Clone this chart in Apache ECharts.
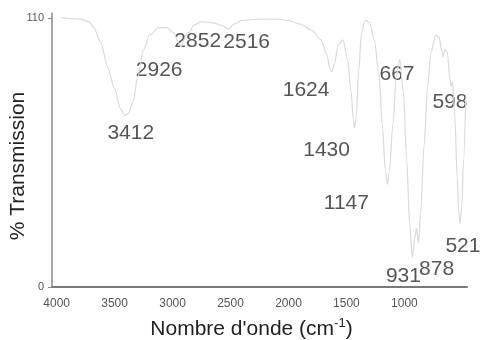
<!DOCTYPE html>
<html>
<head>
<meta charset="utf-8">
<script src="https://cdn.jsdelivr.net/npm/echarts@6/dist/echarts.min.js"></script>
<style>
  html, body { margin: 0; padding: 0; background: #fff; }
  #chart { width: 481px; height: 340px; }
</style>
</head>
<body>
<div id="chart"></div>
<script>
// IR spectrum: wavenumber (cm-1) and % transmission
const wavenumbers = [
  3960, 3900, 3800, 3720, 3680, 3620, 3560, 3500, 3450, 3412, 3380, 3340, 3300, 3250, 3200, 3120,
  3050, 2990, 2950, 2926, 2900, 2875, 2852, 2820, 2750, 2650, 2580, 2516, 2470, 2400, 2250, 2100,
  2000, 1900, 1800, 1720, 1670, 1640, 1624, 1605, 1570, 1530, 1490, 1460, 1440, 1430, 1415, 1395,
  1370, 1340, 1300, 1260, 1220, 1190, 1165, 1147, 1130, 1100, 1070, 1040, 1010, 980, 955, 931,
  910, 895, 878, 860, 830, 800, 770, 730, 700, 680, 667, 650, 630, 610, 598, 585,
  565, 545, 530, 521, 505, 490, 470
];
const transmission = [
  110, 109.8, 109.5, 108.5, 106, 100, 90, 81, 73, 70, 71, 76, 86, 97, 103, 106,
  106, 104, 100, 98, 101, 104, 104, 107, 108.5, 108, 107, 105.5, 107.5, 109, 109.5, 109.5,
  109, 107.5, 105, 101, 95, 89, 88, 91, 99, 101, 93, 80, 68, 65, 70, 88,
  104, 109, 108, 101, 87, 66, 48, 42, 47, 66, 86, 93, 80, 52, 26, 12,
  20, 24, 18, 30, 58, 82, 96, 103, 102, 97, 94, 97, 96, 86, 82, 84,
  70, 45, 30, 26, 33, 52, 78
];

// Annotated absorption bands
const bandLabels = [3412, 2926, 2852, 2516, 1624, 1430, 1147, 931, 878, 667, 598, 521];

// Axis ticks
const xTicks = [4000, 3500, 3000, 2500, 2000, 1500, 1000];
const yTicks = [0, 110];

// Text placement of each band label relative to its band minimum (px)
const labelOffsets = {
  3412: [6, 17], 2926: [-22, 23], 2852: [8, 9], 2516: [18, 13],
  1624: [-26, 18], 1430: [-28, 22], 1147: [-41, 19], 931: [-9, 19],
  878: [18, 26], 667: [-46, 17], 598: [-1, 16], 521: [3, 23]
};

const spectrum = wavenumbers.map((w, i) => [w, transmission[i]]);
const bandPoints = bandLabels.map(w => {
  const i = wavenumbers.indexOf(w);
  return {
    value: [w, transmission[i]],
    label: { offset: labelOffsets[w] }
  };
});

const chart = echarts.init(document.getElementById('chart'), null, { renderer: 'canvas' });
chart.setOption({
  animation: false,
  backgroundColor: '#ffffff',
  grid: { left: 52, right: 14, top: 13, bottom: 53, containLabel: false, outerBoundsMode: 'none' },
  xAxis: {
    type: 'value',
    inverse: true,
    min: 460,
    max: 4040,
    name: "Nombre d'onde (cm{sup|-1})",
    nameLocation: 'middle',
    nameGap: 30,
    nameMoveOverlap: false,
    nameTextStyle: {
      fontFamily: 'Liberation Sans',
      fontSize: 21,
      color: '#222',
      padding: [0, 16, 0, 0],
      rich: {
        sup: { fontFamily: 'Liberation Sans', fontSize: 13, color: '#222', padding: [0, 0, 12, 0] }
      }
    },
    axisLine: { show: true, lineStyle: { color: '#7a7a7a', width: 2 } },
    axisTick: { show: false },
    splitLine: { show: false },
    axisLabel: {
      customValues: xTicks,
      formatter: v => String(v),
      fontFamily: 'Liberation Sans',
      fontSize: 12,
      color: '#555',
      margin: 11
    }
  },
  yAxis: {
    type: 'value',
    min: 0,
    max: 112,
    name: '% Transmission',
    nameLocation: 'middle',
    nameGap: 23,
    nameMoveOverlap: false,
    nameTextStyle: {
      fontFamily: 'Liberation Sans',
      fontSize: 21,
      color: '#222',
      padding: [0, 32, 0, 0]
    },
    axisLine: { show: true, lineStyle: { color: '#8a8a8a', width: 1.5 } },
    axisTick: { show: true, customValues: yTicks, length: 4, lineStyle: { color: '#8a8a8a' } },
    splitLine: { show: false },
    axisLabel: {
      customValues: yTicks,
      formatter: v => String(v),
      fontFamily: 'Liberation Sans',
      fontSize: 11,
      color: '#555',
      margin: 8
    }
  },
  series: [
    {
      type: 'line',
      data: spectrum,
      showSymbol: false,
      smooth: 0.3,
      smoothMonotone: 'x',
      lineStyle: { color: '#dadada', width: 1.2 },
      silent: true
    },
    {
      type: 'scatter',
      data: bandPoints,
      symbolSize: 0,
      silent: true,
      label: {
        show: true,
        position: 'inside',
        align: 'center',
        verticalAlign: 'middle',
        formatter: p => String(p.value[0]),
        fontFamily: 'Liberation Sans',
        fontSize: 21,
        color: '#2a2a2a'
      }
    }
  ]
});
</script>
</body>
</html>
